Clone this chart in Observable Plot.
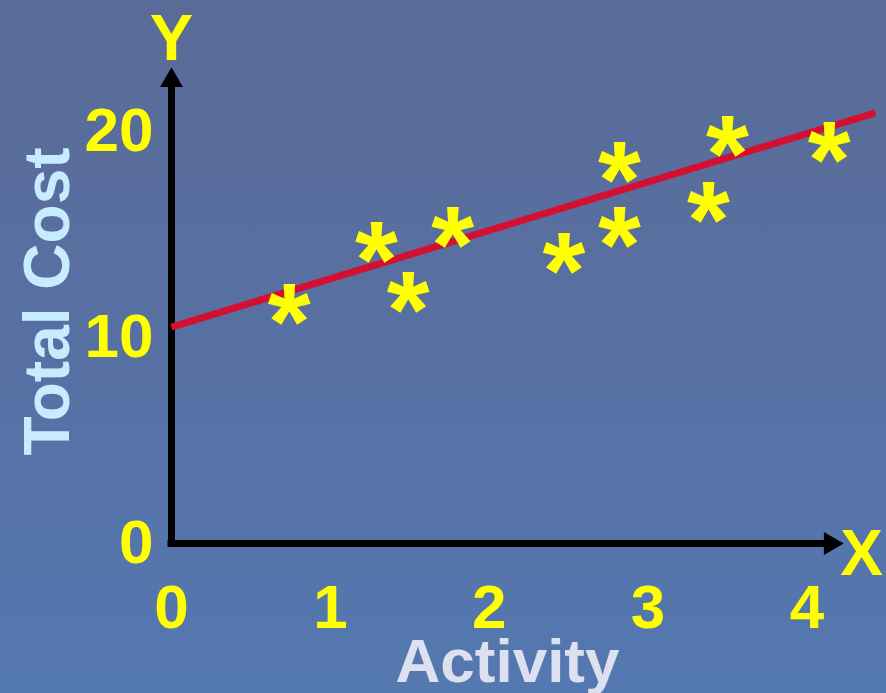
<!DOCTYPE html>
<html><head><meta charset="utf-8">
<script src="https://cdn.jsdelivr.net/npm/d3@7"></script>
<script src="https://cdn.jsdelivr.net/npm/@observablehq/plot@0.6"></script>
<style>
html,body{margin:0;padding:0;}
#chart{width:886px;height:693px;background:linear-gradient(180deg,#5a6b97 0%,#5770a3 50%,#5478b0 100%);overflow:hidden;}
#chart svg{display:block;}
</style></head><body><div id="chart"></div>
<script>
// Scatter data (Activity vs Total Cost)
const activity  = [0.74, 1.29, 1.49, 1.77, 2.47, 2.82, 2.82, 3.38, 3.50, 4.14];
const totalCost = [11.55, 14.56, 12.14, 15.29, 14.03, 18.45, 15.29, 16.5, 19.7, 19.4];
// Fitted line endpoints
const fitX = [0, 4.43];
const fitY = [10.5, 20.9];
// Ticks
const xTicks = [0, 1, 2, 3, 4];
const yTicks = [0, 10, 20];
// Axis extents (arrow tips)
const xMax = 4.23, yMax = 23.1;

const points = activity.map((a, i) => ({x: a, y: totalCost[i]}));
const fit = fitX.map((a, i) => ({x: a, y: fitY[i]}));

const yellow = "#ffff00";
const font = "'Liberation Sans', Arial, sans-serif";

const chart = Plot.plot({
  width: 886,
  height: 693,
  marginLeft: 171,
  marginRight: 43,
  marginTop: 67,
  marginBottom: 150,
  style: {background: "transparent", fontFamily: font, fontWeight: "bold", overflow: "visible"},
  x: {domain: [0, xMax]},
  y: {domain: [0, yMax]},
  marks: [
    Plot.axisX({ticks: xTicks, tickSize: 0, tickPadding: 40, fontSize: 62, fill: yellow, label: null, tickFormat: d => String(d)}),
    Plot.axisY({ticks: yTicks, tickSize: 0, tickPadding: 18, fontSize: 62, fill: yellow, label: null, tickFormat: d => String(d)}),
    // axes lines
    Plot.ruleY([0], {stroke: "black", strokeWidth: 7, insetRight: 12, insetLeft: -3.5}),
    Plot.ruleX([0], {stroke: "black", strokeWidth: 7, insetTop: 12}),
    // arrow heads
    Plot.dot([0], {frameAnchor: "bottom-right", symbol: "triangle", r: 8.5, rotate: 90, fill: "black", stroke: null, dx: -13}),
    Plot.dot([0], {frameAnchor: "top-left", symbol: "triangle", r: 8.5, fill: "black", stroke: null, dy: 13}),
    // fitted line
    Plot.line(fit, {x: "x", y: "y", stroke: "#d40f30", strokeWidth: 7, strokeLinecap: "butt"}),
    // data points
    Plot.text(points, {x: "x", y: "y", text: () => "*", fontSize: 110, fill: yellow, dy: 18, fontWeight: "bold"}),
    // axis letters
    Plot.text(["Y"], {frameAnchor: "top-left", textAnchor: "middle", lineAnchor: "middle", fontSize: 65, fill: yellow, dy: -28}),
    Plot.text(["X"], {frameAnchor: "bottom-right", textAnchor: "middle", lineAnchor: "middle", fontSize: 64, fill: yellow, dx: 18, dy: 11}),
    // axis titles
    Plot.text(["Total Cost"], {frameAnchor: "left", textAnchor: "middle", lineAnchor: "middle", rotate: -90, fontSize: 64, fill: "#c8ecff", dx: -123, dy: -4}),
    Plot.text(["Activity"], {frameAnchor: "bottom", textAnchor: "middle", lineAnchor: "middle", fontSize: 62, fill: "#dde0ee", dy: 119})
  ]
});
document.getElementById("chart").appendChild(chart);
</script>
</body></html>
